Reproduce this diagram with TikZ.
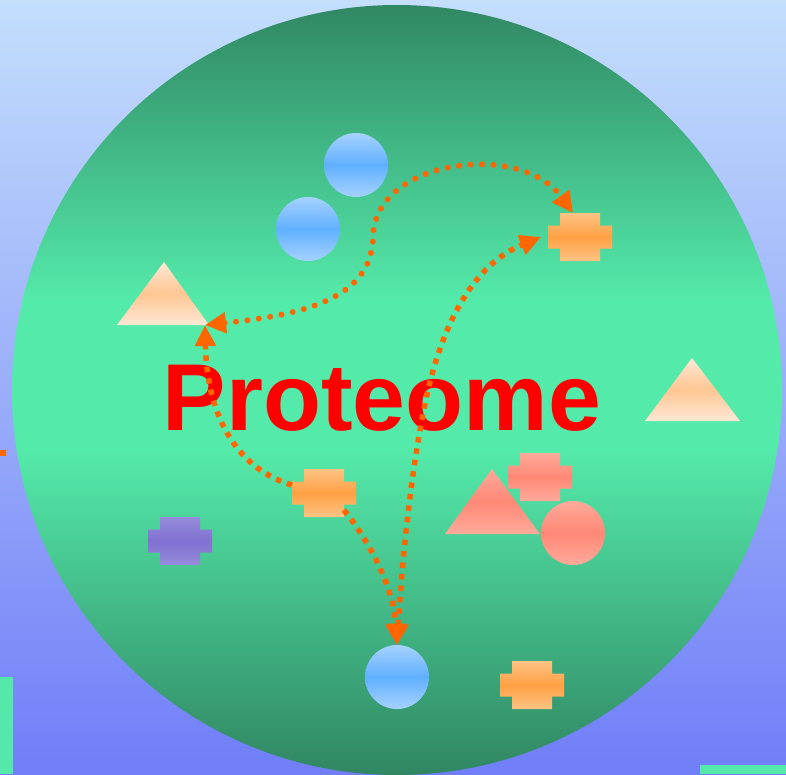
\documentclass[tikz,border=0pt]{standalone}
\usepackage{fontspec}
\setmainfont{Liberation Sans}
\usetikzlibrary{arrows.meta}
\definecolor{bgtop}{RGB}{196,222,252}
\definecolor{bgbot}{RGB}{112,126,248}
\definecolor{gdark}{RGB}{48,134,98}
\definecolor{glight}{RGB}{84,234,170}
\definecolor{oline}{RGB}{255,102,0}
\definecolor{bluelt}{RGB}{166,210,255}
\definecolor{bluemid}{RGB}{96,176,255}
\definecolor{orlt}{RGB}{255,196,132}
\definecolor{ormid}{RGB}{255,160,68}
\definecolor{pclt}{RGB}{255,232,214}
\definecolor{pcmid}{RGB}{255,198,146}
\definecolor{salt}{RGB}{255,170,155}
\definecolor{samid}{RGB}{255,136,118}
\definecolor{pult}{RGB}{150,140,220}
\definecolor{pumid}{RGB}{128,112,208}
\definecolor{edgegreen}{RGB}{84,232,170}
\begin{document}
\begin{tikzpicture}[x=1pt,y=-1pt,
  bluefill/.style={top color=bluelt,bottom color=bluelt,middle color=bluemid},
  orfill/.style={top color=orlt,bottom color=orlt,middle color=ormid},
  pcfill/.style={top color=pclt,bottom color=pclt,middle color=pcmid},
  safill/.style={top color=salt,bottom color=salt,middle color=samid},
  pufill/.style={top color=pult,bottom color=pult,middle color=pumid},
  ball/.style={circle,minimum size=64pt,inner sep=0pt},
  rounddots/.style={draw=oline,line width=6pt,line cap=round,dash pattern=on 0pt off 11.5pt},
  squaredots/.style={draw=oline,line width=5.5pt,dash pattern=on 5.5pt off 6pt},
  tipA/.style={-{Triangle[length=21pt,width=20pt]}},
  tipAB/.style={{Triangle[length=21pt,width=20pt]}-{Triangle[length=21pt,width=20pt]}},
  pics/crossshape/.style={code={
    \shade[#1] (-32,-11.5) -- (-20,-11.5) -- (-20,-24) -- (20,-24) -- (20,-11.5) -- (32,-11.5)
      -- (32,11.5) -- (20,11.5) -- (20,24) -- (-20,24) -- (-20,11.5) -- (-32,11.5) -- cycle;}}
]
\useasboundingbox (0,0) rectangle (786,774);
% background
\shade[top color=bgtop,bottom color=bgbot] (0,0) rectangle (786,774);
% big cell
\begin{scope}
  \clip (397,390) circle[radius=385pt];
  \shade[top color=gdark,bottom color=glight] (0,0) rectangle (786,300);
  \fill[glight] (0,299) rectangle (786,451);
  \shade[top color=glight,bottom color=gdark] (0,450) rectangle (786,776);
\end{scope}
% edge bits
\fill[oline] (0,450) rectangle (6,456);
\fill[edgegreen] (0,677) rectangle (13,774);
\fill[edgegreen] (700,765) rectangle (786,774);
% molecules
\node[ball,bluefill] (b1) at (356,165) {};
\node[ball,bluefill] (b2) at (308,229) {};
\node[ball,bluefill] (b3) at (397,677) {};
\node[ball,safill] (s1) at (573,533) {};
\shade[pcfill] (117,325) -- (164,262) -- (209,325) -- cycle;
\shade[pcfill] (645,421) -- (692,358) -- (740,421) -- cycle;
\shade[safill] (445,534) -- (492,469) -- (540,534) -- cycle;
\pic at (580,237) {crossshape=orfill};
\pic at (324,493) {crossshape=orfill};
\pic at (532,685) {crossshape=orfill};
\pic at (540,477) {crossshape=safill};
\pic at (180,541) {crossshape=pufill};
% connector ends
\coordinate (tl) at (205,325);
\coordinate (ct) at (573,213);
\coordinate (cl) at (541,237);
\coordinate (ml) at (292,485);
\coordinate (mr) at (344,510);
\coordinate (bt) at (397,645);
% title
\node[text=red,font=\bfseries\fontsize{95}{95}\selectfont,anchor=base,inner sep=0pt] (title) at (382,430) {Proteome};
% connectors
\draw[rounddots,tipAB] (tl) .. controls (300,315) and (372,300) .. (373,237)
   .. controls (374,160) and (520,140) .. (ct);
\draw[squaredots,tipA] (ml) .. controls (240,470) and (207,420) .. (tl);
\draw[squaredots,tipA] (mr) .. controls (372,545) and (394,590) .. (bt);
\draw[squaredots,tipAB] (bt) .. controls (402,560) and (412,460) .. (428,390)
   .. controls (447,310) and (480,262) .. (cl);
\end{tikzpicture}
\end{document}
